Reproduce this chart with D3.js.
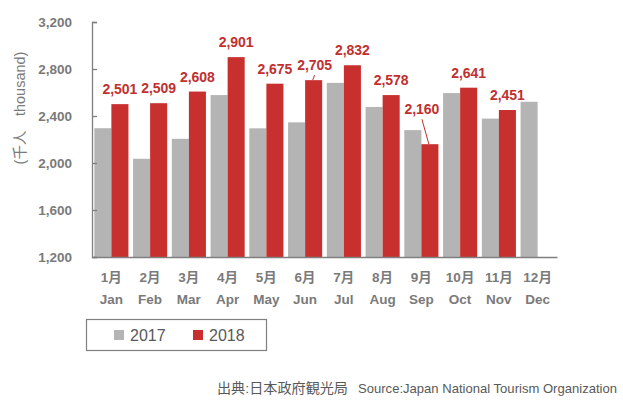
<!DOCTYPE html>
<html>
<head>
<meta charset="utf-8">
<script src="https://cdn.jsdelivr.net/npm/d3@7"></script>
<style>
  html, body { margin: 0; padding: 0; background: #fff; }
  svg { display: block; }
  text { font-family: "Liberation Sans", "Noto Sans CJK JP", sans-serif; }
</style>
</head>
<body>
<div id="chart"></div>
<script>
// ---- data ----
const monthsJa = ["1月","2月","3月","4月","5月","6月","7月","8月","9月","10月","11月","12月"];
const monthsEn = ["Jan","Feb","Mar","Apr","May","Jun","Jul","Aug","Sep","Oct","Nov","Dec"];
const series = ["2017", "2018"];
const values2017 = [2296, 2036, 2206, 2578, 2295, 2346, 2682, 2477, 2280, 2595, 2378, 2521];
const values2018 = [2501, 2509, 2608, 2901, 2675, 2705, 2832, 2578, 2160, 2641, 2451, null];
const yTicks = [1200, 1600, 2000, 2400, 2800, 3200];
const yTitle = "(千人　thousand)";
const sourceJa = "出典:日本政府観光局";
const sourceEn = "Source:Japan  National Tourism  Organization";

// ---- layout ----
const W = 623, H = 401;
const m = { left: 92, right: 66, top: 22, bottom: 144 };
const colors = { "2017": "#b4b4b4", "2018": "#c8302f" };
const axisGray = "#7f7f7f";
const textGray = "#7a7a7a";

const svg = d3.select("#chart").append("svg").attr("width", W).attr("height", H);

const x = d3.scaleBand().domain(monthsEn).range([m.left, W - m.right])
  .paddingInner(0.12).paddingOuter(0.06);
const xs = d3.scaleBand().domain(series).range([0, x.bandwidth()]).padding(0);
const y = d3.scaleLinear().domain([1200, 3200]).range([H - m.bottom, m.top]);

// bars
const rows = monthsEn.map((mo, i) => ({ mo, i, v: { "2017": values2017[i], "2018": values2018[i] } }));
const g = svg.append("g");
rows.forEach(r => {
  series.forEach(s => {
    const v = r.v[s];
    if (v == null) return;
    g.append("rect")
      .attr("x", x(r.mo) + xs(s))
      .attr("y", y(v))
      .attr("width", xs.bandwidth())
      .attr("height", y(1200) - y(v))
      .attr("fill", colors[s]);
  });
});

// y axis
const yAxis = d3.axisLeft(y).tickValues(yTicks).tickSize(-5).tickPadding(20)
  .tickFormat(d3.format(","));
const ya = svg.append("g").attr("transform", `translate(${m.left},0)`).call(yAxis);
ya.select(".domain").attr("stroke", axisGray).attr("stroke-width", 1.3);
ya.selectAll(".tick line").attr("stroke", axisGray).attr("stroke-width", 1.3);
ya.selectAll(".tick text").attr("fill", textGray).attr("font-size", 13.5)
  .attr("font-weight", "bold").attr("font-family", "Liberation Sans, sans-serif");

// x axis line
const xa = svg.append("g").attr("transform", `translate(0,${y(1200)})`)
  .call(d3.axisBottom(x).tickSize(0).tickFormat(""));
xa.select(".domain").attr("stroke", axisGray).attr("stroke-width", 1.3);

// x labels
monthsEn.forEach((mo, i) => {
  const cx = x(mo) + x.bandwidth() / 2;
  svg.append("text").attr("x", cx).attr("y", 282).attr("text-anchor", "middle")
    .attr("fill", textGray).attr("font-size", 13.5).attr("font-weight", "bold")
    .text(monthsJa[i]);
  svg.append("text").attr("x", cx).attr("y", 304).attr("text-anchor", "middle")
    .attr("fill", textGray).attr("font-size", 13.5).attr("font-weight", "bold")
    .text(mo);
});

// data labels for 2018
const labelShift = { "Sep": { dx: -8, lift: 35, leader: true }, "Jun": { dx: 1, lift: 15, leader: true } };
rows.forEach(r => {
  const v = r.v["2018"];
  if (v == null) return;
  const bx = x(r.mo) + xs("2018") + xs.bandwidth() / 2;
  const top = y(v);
  const sh = labelShift[r.mo] || { dx: 0, lift: 15, leader: false };
  const cy = top - sh.lift;
  svg.append("text").attr("x", bx + sh.dx).attr("y", cy + 5)
    .attr("text-anchor", "middle").attr("fill", "#c0302f")
    .attr("font-size", 14).attr("font-weight", "bold")
    .text(d3.format(",")(v));
  if (sh.leader) {
    svg.append("line")
      .attr("x1", bx + sh.dx).attr("y1", sh.lift > 20 ? cy + 10 : top - 5)
      .attr("x2", bx - 1).attr("y2", top)
      .attr("stroke", "#c0302f").attr("stroke-width", 1);
  }
});

// y title
svg.append("text").attr("transform", `translate(25,108) rotate(-90)`)
  .attr("text-anchor", "middle").attr("fill", textGray).attr("font-size", 14.5)
  .attr("font-family", "Noto Sans CJK JP, sans-serif")
  .text(yTitle);

// legend
const lg = svg.append("g");
lg.append("rect").attr("x", 86.5).attr("y", 319.5).attr("width", 180).attr("height", 31)
  .attr("fill", "none").attr("stroke", axisGray).attr("stroke-width", 1.2);
const legendItems = [{ s: "2017", x: 114 }, { s: "2018", x: 193 }];
legendItems.forEach(it => {
  lg.append("rect").attr("x", it.x).attr("y", 330).attr("width", 10).attr("height", 10)
    .attr("fill", colors[it.s]);
  lg.append("text").attr("x", it.x + 16).attr("y", 341).attr("fill", "#595959")
    .attr("font-size", 16).text(it.s);
});

// source
svg.append("text").attr("x", 217).attr("y", 393).attr("fill", "#595959")
  .attr("font-size", 13.5).attr("font-family", "Noto Sans CJK JP, sans-serif")
  .attr("textLength", 131).attr("lengthAdjust", "spacingAndGlyphs")
  .text(sourceJa);
svg.append("text").attr("x", 358).attr("y", 393).attr("fill", "#595959")
  .attr("font-size", 13).attr("font-family", "Open Sans, Liberation Sans, sans-serif")
  .attr("textLength", 259).attr("lengthAdjust", "spacingAndGlyphs")
  .text(sourceEn);
</script>
</body>
</html>
